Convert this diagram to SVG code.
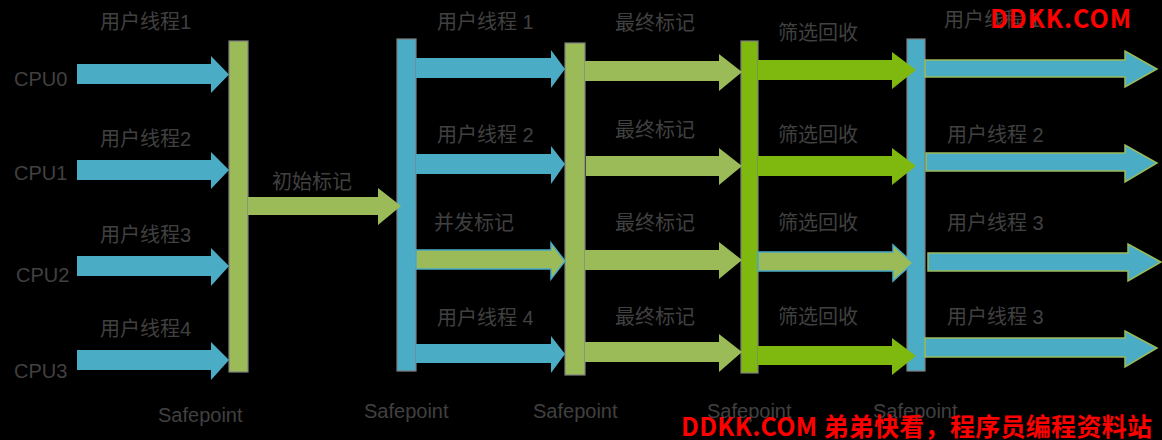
<svg xmlns="http://www.w3.org/2000/svg" width="1162" height="440" viewBox="0 0 1162 440">
<style>
.t{font-family:"Liberation Sans","Noto Sans CJK SC",sans-serif;font-size:20px;fill:#404040}
.wm{font-family:"Noto Sans CJK SC","Liberation Sans",sans-serif;font-weight:bold;fill:#FF0000}
.bar{stroke:#7F7F7F;stroke-width:1.2}
.blue{fill:#4BACC6}
.lg{fill:#9BBB59}
.dg{fill:#7FB80F}
.blue-s{fill:#4BACC6;stroke:#9BBB59;stroke-width:1.5}
.lg-s{fill:#9BBB59;stroke:#4BACC6;stroke-width:1.5}
</style>
<rect width="1162" height="440" fill="#000"/>
<g id="safepoint1"><rect class="bar lg" x="229" y="41" width="19" height="331"/></g>
<g id="safepoint2"><rect class="bar blue" x="397" y="39" width="19" height="332"/></g>
<g id="safepoint3"><rect class="bar lg" x="565" y="43" width="20" height="332"/></g>
<g id="safepoint4"><rect class="bar dg" x="741" y="41" width="17" height="332"/></g>
<g id="safepoint5"><rect class="bar blue" x="907" y="39" width="18" height="332"/></g>
<g id="connectors">
<path class="blue" d="M77,64H211V56L229,74.5L211,93V84H77Z"/>
<path class="blue" d="M77,160H211V152L229,170L211,189V180H77Z"/>
<path class="blue" d="M77,256H211V248L229,266L211,286V276H77Z"/>
<path class="blue" d="M77,350H211V342L229,360L211,380V370H77Z"/>
<path class="lg" d="M248,197H378V188L401,206L378,225V215H248Z"/>
<path class="blue" d="M416,58H551V50L565,69L551,88V78H416Z"/>
<path class="blue" d="M416,154H551V146L565,164L551,184V174H416Z"/>
<path class="lg-s" d="M416,250H551V243L565,261L551,279V269H416Z"/>
<path class="blue" d="M416,344H551V336L565,354L551,373V363H416Z"/>
<path class="lg" d="M585,61H719V54L742,72L719,91V81H585Z"/>
<path class="lg" d="M586,156H719V148L742,166L719,185V176H586Z"/>
<path class="lg" d="M585,250H719V242L742,260L719,279V270H585Z"/>
<path class="lg" d="M585,342H719V334L742,352L719,372V362H585Z"/>
<path class="dg" d="M758,60H892V52L916,70L892,89V80H758Z"/>
<path class="dg" d="M758,156H892V148L916,166L892,185V176H758Z"/>
<path class="lg-s" d="M758,252H893V245L913,263L893,281V271H758Z"/>
<path class="dg" d="M758,346H892V338L916,356L892,375V365H758Z"/>
<path class="blue-s" d="M925,60H1125V51L1157,69L1125,87V77H925Z"/>
<path class="blue-s" d="M926,153H1125V145L1157,163L1125,182V171H926Z"/>
<path class="blue-s" d="M928,253H1128V244L1161,262L1128,281V271H928Z"/>
<path class="blue-s" d="M925,338H1125V331L1157,348L1125,367V357H925Z"/>
</g>
<g id="labels">
<text class="t" x="100" y="29">用户线程1</text>
<text class="t" x="100" y="146">用户线程2</text>
<text class="t" x="100" y="242">用户线程3</text>
<text class="t" x="100" y="336">用户线程4</text>
<text class="t" x="14" y="86">CPU0</text>
<text class="t" x="14" y="180">CPU1</text>
<text class="t" x="16" y="282">CPU2</text>
<text class="t" x="14" y="378">CPU3</text>
<text class="t" x="272" y="189">初始标记</text>
<text class="t" x="437" y="29">用户线程 1</text>
<text class="t" x="437" y="142">用户线程 2</text>
<text class="t" x="434" y="230">并发标记</text>
<text class="t" x="437" y="325">用户线程 4</text>
<text class="t" x="615" y="30">最终标记</text>
<text class="t" x="615" y="137">最终标记</text>
<text class="t" x="615" y="230">最终标记</text>
<text class="t" x="615" y="324">最终标记</text>
<text class="t" x="778" y="40">筛选回收</text>
<text class="t" x="778" y="142">筛选回收</text>
<text class="t" x="778" y="230">筛选回收</text>
<text class="t" x="778" y="324">筛选回收</text>
<text class="t" x="944" y="27">用户线程 1</text>
<text class="t" x="947" y="142">用户线程 2</text>
<text class="t" x="947" y="230">用户线程 3</text>
<text class="t" x="947" y="324">用户线程 3</text>
<text class="t" x="158" y="422">Safepoint</text>
<text class="t" x="364" y="418">Safepoint</text>
<text class="t" x="533" y="418">Safepoint</text>
<text class="t" x="707" y="418">Safepoint</text>
<text class="t" x="873" y="418">Safepoint</text>
</g>
<g id="watermark">
<text class="wm" x="990" y="28" font-size="25" textLength="141">DDKK.COM</text>
<text class="wm" x="681" y="436" font-size="25" textLength="471">DDKK.COM 弟弟快看，程序员编程资料站</text>
</g>
</svg>
